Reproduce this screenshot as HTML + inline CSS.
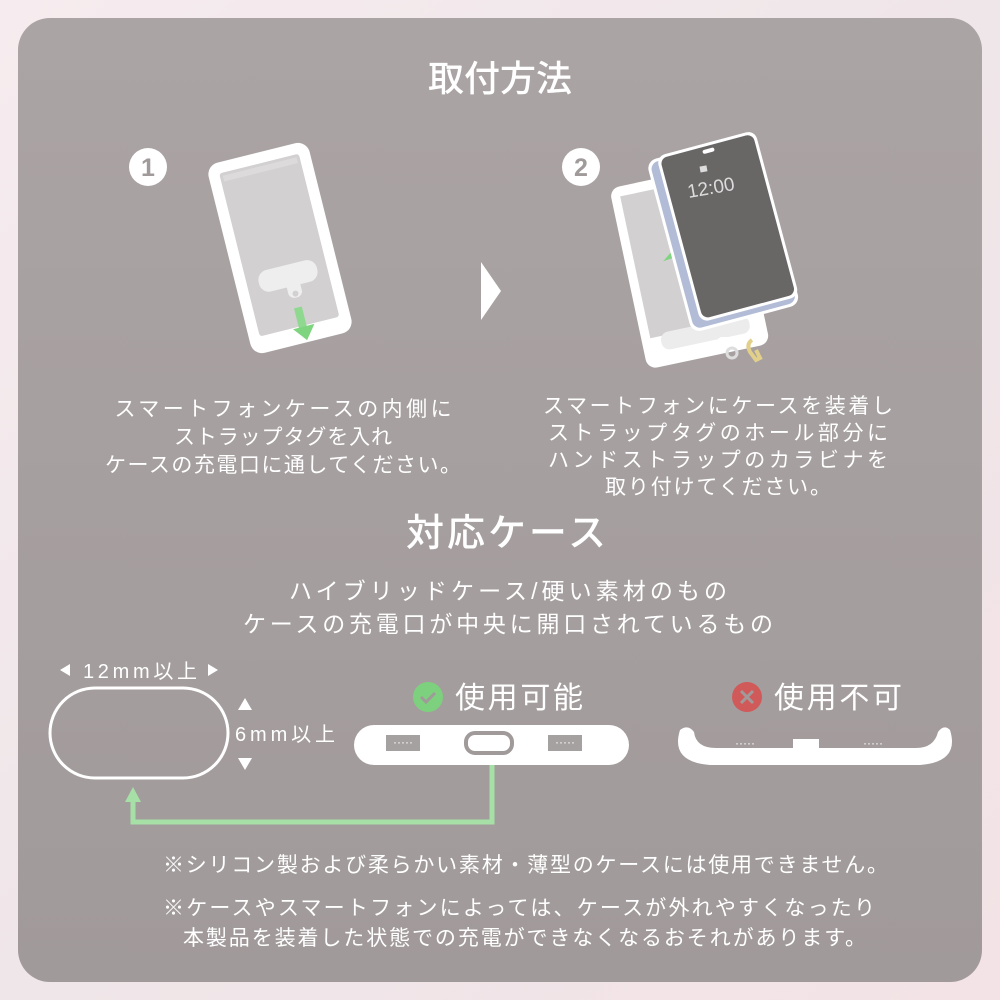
<!DOCTYPE html>
<html><head><meta charset="utf-8"><style>
html,body{margin:0;padding:0;}
body{width:1000px;height:1000px;background:linear-gradient(135deg,#f6ecef,#efe6e9 50%,#f3e3e6);overflow:hidden;}
svg{display:block;}
text{font-family:"Liberation Sans","Noto Sans CJK JP",sans-serif;fill:#fff;}
</style></head><body>
<svg width="1000" height="1000" viewBox="0 0 1000 1000">
<defs>
<linearGradient id="bg" x1="0" y1="0" x2="0" y2="1">
<stop offset="0" stop-color="#aba4a4"/><stop offset="1" stop-color="#a19a9a"/>
</linearGradient>
</defs>
<rect x="18" y="18" width="964" height="964" rx="32" fill="url(#bg)"/>
<text x="500" y="91" font-size="36" text-anchor="middle" font-weight="500" style="font-weight:500">取付方法</text>

<!-- step 1 -->
<circle cx="148" cy="167" r="19" fill="#fff"/>
<text x="148" y="176" font-size="25" font-weight="bold" text-anchor="middle" style="fill:#a19a9a">1</text>
<g transform="translate(280,248) rotate(-14)">
<rect x="-52" y="-98" width="104" height="196" rx="12" fill="#fff"/>
<rect x="-42" y="-88" width="84" height="170" rx="4" fill="#d2d0d0" stroke="#fff" stroke-width="2"/>
<rect x="-38" y="-84" width="76" height="6" fill="#dcdada"/>
<rect x="-29" y="18" width="60" height="22" rx="10" fill="#efeeee"/>
<rect x="-3" y="34" width="14" height="18" rx="6" fill="#efeeee"/>
<circle cx="4" cy="48" r="3" fill="#d2d0d0"/>
<rect x="-1" y="62" width="8" height="22" fill="#8fd88f"/>
<polygon points="-7,82 15,82 4,96" fill="#7fd47f"/>
</g>

<polygon points="481,262 501,291 481,320" fill="#fff"/>

<!-- step 2 -->
<circle cx="581" cy="167" r="19" fill="#fff"/>
<text x="581" y="176" font-size="25" font-weight="bold" text-anchor="middle" style="fill:#a19a9a">2</text>
<g transform="translate(692,265) rotate(-12)">
<rect x="-65" y="-92" width="125" height="185" rx="10" fill="#fff"/>
<rect x="-56" y="-82" width="106" height="145" fill="#d2d0d0"/>
<rect x="-46" y="60" width="90" height="18" rx="8" fill="#ececec"/>
</g>
<polygon points="668,258 676,249 674,256" fill="#7fd47f" stroke="#7fd47f" stroke-width="3"/>
<rect x="718" y="338" width="18" height="8" rx="4" fill="none" stroke="#fff" stroke-width="2"/>
<circle cx="732" cy="353" r="5" fill="none" stroke="#ddd" stroke-width="3"/>
<path d="M752 340 q-6 4 -2 12 l6 8 l4 -2 l-4 -8" fill="none" stroke="#e1cf8a" stroke-width="4"/>
<g transform="translate(722,232) rotate(-15)">
<rect x="-55" y="-88" width="112" height="178" rx="10" fill="#fff"/>
<rect x="-52" y="-85" width="106" height="172" rx="8" fill="#b2bcd6"/>
<rect x="-44" y="-90" width="102" height="172" rx="9" fill="#fff"/>
<rect x="-41" y="-87" width="96" height="166" rx="7" fill="#696666"/>
<rect x="2" y="-84" width="12" height="4" rx="2" fill="#fff"/>
</g>
<text x="711" y="194" font-size="19" text-anchor="middle" transform="rotate(-10 711 188)" style="fill:#dcdcdc">12:00</text>
<rect x="700" y="166" width="7" height="6" fill="#ddd" transform="rotate(-10 703 169)"/>

<g font-size="21" text-anchor="middle">
<text x="283" y="416" textLength="337">スマートフォンケースの内側に</text>
<text x="283" y="444" textLength="218">ストラップタグを入れ</text>
<text x="283" y="472" textLength="356">ケースの充電口に通してください。</text>
<text x="718" y="413" textLength="350">スマートフォンにケースを装着し</text>
<text x="718" y="440" textLength="340">ストラップタグのホール部分に</text>
<text x="718" y="467" textLength="340">ハンドストラップのカラビナを</text>
<text x="718" y="494" textLength="226">取り付けてください。</text>
</g>

<text x="506" y="546" font-size="38" text-anchor="middle" style="font-weight:500" textLength="200">対応ケース</text>
<text x="508" y="599" font-size="23" text-anchor="middle" textLength="438">ハイブリッドケース/硬い素材のもの</text>
<text x="508" y="632" font-size="23" text-anchor="middle" textLength="530">ケースの充電口が中央に開口されているもの</text>

<!-- size diagram -->
<polygon points="60,670 70,664 70,676" fill="#fff"/>
<text x="140" y="678" font-size="20" text-anchor="middle" textLength="114">12mm以上</text>
<polygon points="218,670 208,664 208,676" fill="#fff"/>
<rect x="50" y="688" width="178" height="90" rx="45" fill="none" stroke="#fff" stroke-width="3"/>
<polygon points="245,698 238,710 252,710" fill="#fff"/>
<text x="285" y="741" font-size="20" text-anchor="middle" textLength="100">6mm以上</text>
<polygon points="245,770 238,758 252,758" fill="#fff"/>

<path d="M492 750 V822 H133 V800" fill="none" stroke="#a6e0a6" stroke-width="5"/>
<polygon points="125,802 133,787 141,802" fill="#a6e0a6"/>

<!-- OK -->
<circle cx="428" cy="697" r="15" fill="#7dd07d"/>
<path d="M421 697 l5 5 l9 -9" fill="none" stroke="#a19a9a" stroke-width="3"/>
<text x="455" y="708" font-size="30" textLength="128">使用可能</text>
<rect x="354" y="725" width="275" height="40" rx="20" fill="#fff"/>
<rect x="386" y="735" width="34" height="16" fill="#a6a1a1"/>
<text x="403" y="746" font-size="12" text-anchor="middle">·····</text>
<rect x="548" y="735" width="34" height="16" fill="#a6a1a1"/>
<text x="565" y="746" font-size="12" text-anchor="middle">·····</text>
<rect x="466" y="733" width="46" height="20" rx="9" fill="#fff" stroke="#a09a9a" stroke-width="4"/>

<!-- NG -->
<circle cx="747" cy="697" r="15" fill="#d05a5a"/>
<path d="M741 691 l12 12 M753 691 l-12 12" stroke="#a19a9a" stroke-width="3"/>
<text x="774" y="708" font-size="30" textLength="128">使用不可</text>
<path d="M680 730 q-10 32 30 35 h210 q40 -3 30 -35 q-6 -6 -12 2 q-4 16 -22 16 h-200 q-20 0 -22 -16 q-6 -8 -14 -2 z" fill="#fff"/>
<text x="745" y="747" font-size="12" text-anchor="middle">·····</text>
<rect x="793" y="739" width="26" height="12" fill="#fff"/>
<text x="873" y="747" font-size="12" text-anchor="middle">·····</text>

<g font-size="21">
<text x="163" y="872" textLength="725">※シリコン製および柔らかい素材・薄型のケースには使用できません。</text>
<text x="163" y="915" textLength="712">※ケースやスマートフォンによっては、ケースが外れやすくなったり</text>
<text x="183" y="945" textLength="683">本製品を装着した状態での充電ができなくなるおそれがあります。</text>
</g>
</svg>
</body></html>
